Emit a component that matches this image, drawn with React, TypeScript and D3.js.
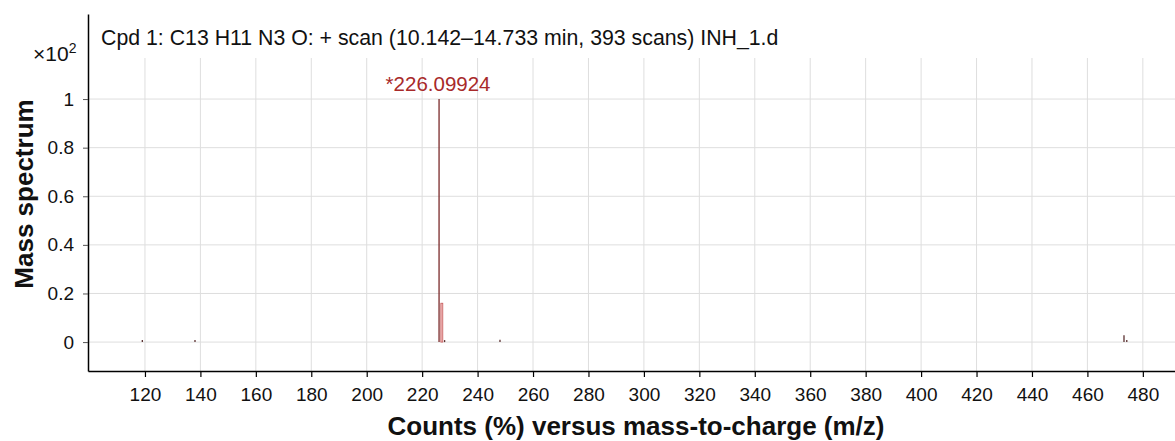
import React, { useEffect, useRef } from "react";
import * as d3 from "d3";

const mzValues = [119.05, 138.05, 226.09924, 227.1, 228.1, 248.08, 473.2, 474.2];
const intensities = [0.004, 0.007, 1.0, 0.16, 0.006, 0.01, 0.028, 0.005];
const xTicks = [120, 140, 160, 180, 200, 220, 240, 260, 280, 300, 320, 340, 360, 380, 400, 420, 440, 460, 480];
const yTicks = [0, 0.2, 0.4, 0.6, 0.8, 1];
const peakLabel = "*226.09924";
const title = "Cpd 1: C13 H11 N3 O: + scan (10.142\u201314.733 min, 393 scans) INH_1.d";

const W = 1175, H = 441;
const FONT = "Liberation Sans, Arial, sans-serif";

export default function App() {
  const ref = useRef<SVGSVGElement>(null);
  useEffect(() => {
    const svg = d3.select(ref.current);
    svg.selectAll("*").remove();
    const left = 88, right = 1175, top = 14, bottom = 371;
    const x = d3.scaleLinear().domain([99.45, 491.6]).range([left, right]);
    const y = d3.scaleLinear().domain([-0.119, 1.35]).range([bottom, top]);

    const g = svg.append("g");
    g.selectAll(".vg").data(xTicks).enter().append("line")
      .attr("x1", d => x(d)).attr("x2", d => x(d))
      .attr("y1", 58).attr("y2", bottom)
      .attr("stroke", "#dedede").attr("stroke-width", 1);
    g.selectAll(".hg").data(yTicks).enter().append("line")
      .attr("x1", left).attr("x2", right)
      .attr("y1", d => y(d)).attr("y2", d => y(d))
      .attr("stroke", "#dedede").attr("stroke-width", 1);

    const xa = svg.append("g").attr("transform", `translate(0,${bottom})`)
      .call(d3.axisBottom(x).tickValues(xTicks).tickSize(6).tickPadding(11).tickSizeOuter(0));
    xa.select(".domain").attr("stroke", "#000").attr("stroke-width", 1.5);
    xa.selectAll("line").attr("stroke", "#000").attr("stroke-width", 1.2);
    xa.selectAll("text").attr("font-family", FONT).attr("font-size", 19).attr("fill", "#111");

    const ya = svg.append("g").attr("transform", `translate(${left},0)`)
      .call(d3.axisLeft(y).tickValues(yTicks).tickFormat(d3.format("~g") as any).tickSize(5).tickPadding(9).tickSizeOuter(0));
    ya.select(".domain").attr("stroke", "#000").attr("stroke-width", 1.5);
    ya.selectAll("line").attr("stroke", "#555").attr("stroke-width", 1);
    ya.selectAll("text").attr("font-family", FONT).attr("font-size", 19).attr("fill", "#111");

    const peaks = mzValues.map((m, i) => ({ m, v: intensities[i] }));
    const pg = svg.append("g");
    pg.selectAll("rect").data(peaks.filter(d => d.v > 0.1 && d.v < 0.5)).enter().append("rect")
      .attr("x", d => x(d.m) - 1).attr("width", 2)
      .attr("y", d => y(d.v)).attr("height", d => y(0) - y(d.v))
      .attr("fill", "#f0b8b8").attr("stroke", "#c05050").attr("stroke-width", 0.7);
    pg.selectAll("line").data(peaks.filter(d => !(d.v > 0.1 && d.v < 0.5))).enter().append("line")
      .attr("x1", d => x(d.m)).attr("x2", d => x(d.m))
      .attr("y1", d => Math.min(y(d.v), y(0) - 2)).attr("y2", y(0))
      .attr("stroke", d => (d.v > 0.5 ? "#7a2a2a" : "#5a3030")).attr("stroke-width", 1.3);

    svg.append("text").attr("x", x(226.09924) - 1).attr("y", y(1) - 8)
      .attr("text-anchor", "middle").attr("font-family", FONT).attr("font-size", 20.5)
      .attr("fill", "#a82a2a").text(peakLabel);

    svg.append("text").attr("x", 101).attr("y", 45).attr("font-family", FONT)
      .attr("font-size", 21.3).attr("fill", "#111").text(title);

    const mult = svg.append("text").attr("x", 33).attr("y", 61).attr("font-family", FONT)
      .attr("font-size", 21).attr("fill", "#111");
    mult.append("tspan").text("\u00d710");
    mult.append("tspan").attr("dy", -8).attr("font-size", 14).text("2");

    svg.append("text").attr("transform", `translate(33,194) rotate(-90)`)
      .attr("text-anchor", "middle").attr("font-family", FONT).attr("font-size", 26)
      .attr("font-weight", "bold").attr("fill", "#111").text("Mass spectrum");

    svg.append("text").attr("x", 636).attr("y", 435)
      .attr("text-anchor", "middle").attr("font-family", FONT).attr("font-size", 26)
      .attr("font-weight", "bold").attr("fill", "#111").text("Counts (%) versus mass-to-charge (m/z)");
  }, []);
  return (
    <svg ref={ref} width={W} height={H}
      style={{ position: "absolute", left: 0, top: 0, display: "block", background: "#fff" }} />
  );
}
